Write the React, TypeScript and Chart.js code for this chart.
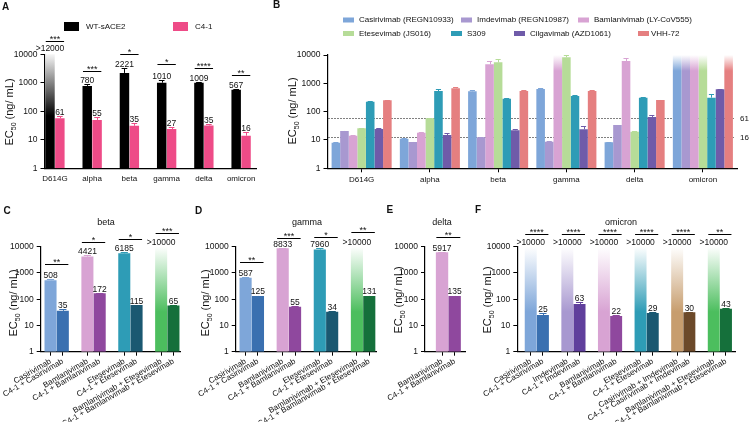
import React, { useEffect, useRef } from 'react';
import { Chart, registerables } from 'chart.js';

Chart.register(...registerables);

const FONT = '"Liberation Sans", Arial, Helvetica, sans-serif';
Chart.defaults.font.family = FONT;
Chart.defaults.color = '#111';

// ---------------- data ----------------
const yTicks = [1, 10, 100, 1000, 10000];
const OPEN = 10000; // bars at/above this value are open-ended and drawn fading out
const yTitleParts = ['EC', '50', ' (ng/ mL)'];

// Panel A
const aCategories = ['D614G', 'alpha', 'beta', 'gamma', 'delta', 'omicron'];
const aSeriesNames = ['WT-sACE2', 'C4-1'];
const aWT = [12000, 780, 2221, 1010, 1009, 570];
const aWTErr = [12000, 910, 3230, 1250, 1070, 620];
const aWTText = ['>12000', '780', '2221', '1010', '1009', '567'];
const aC41 = [57, 50, 31, 24, 32, 14];
const aC41Err = [68, 62, 40, 29, 36, 19];
const aC41Text = ['61', '55', '35', '27', '35', '16'];
const aStars = ['***', '***', '*', '*', '****', '**'];
const aBracket = [30000, 2600, 10200, 4570, 3300, 1880];

// Panel B
const bCategories = ['D614G', 'alpha', 'beta', 'gamma', 'delta', 'omicron'];
const bSeriesNames = [
  'Casirivimab (REGN10933)',
  'Imdevimab (REGN10987)',
  'Bamlanivimab (LY-CoV555)',
  'Etesevimab (JS016)',
  'S309',
  'Cilgavimab (AZD1061)',
  'VHH-72',
];
const bCasirivimab = [8, 11, 522, 630, 8.3, 10000];
const bCasirivimabErr = [8.4, 11.6, 560, 670, 8.7, 10000];
const bImdevimab = [20.8, 8.5, 12.4, 8.7, 33.8, 10000];
const bImdevimabErr = [21.5, 8.8, 12.8, 9, 35, 10000];
const bBamlanivimab = [14.2, 18.1, 4700, 10000, 6150, 10000];
const bBamlanivimabErr = [14.6, 18.6, 5940, 10000, 7600, 10000];
const bEtesevimab = [25.9, 58, 5500, 8300, 19.7, 10000];
const bEtesevimabErr = [26.5, 60, 7000, 10400, 20.3, 10000];
const bS309 = [225, 535, 287, 356, 312, 312];
const bS309Err = [235, 620, 300, 386, 325, 410];
const bCilgavimab = [24.5, 15, 22, 23.8, 65, 612];
const bCilgavimabErr = [26, 18, 24, 31, 76, 640];
const bVHH72 = [251, 668, 537, 537, 258, 10000];
const bVHH72Err = [265, 720, 560, 600, 268, 10000];
const bRefValues = [61, 12.5];
const bRefLabels = ['61', '16'];

// Panel C (beta)
const cTitle = 'beta';
const cLabels = [
  'Casirivimab', 'C4-1 + Casirivimab',
  'Bamlanivimab', 'C4-1 + Bamlanivimab',
  'Etesevimab', 'C4-1 + Etesevimab',
  'Bamlanivimab + Etesevimab', 'C4-1 + Bamlanivimab + Etesevimab',
];
const cValues = [530, 36, 4200, 170, 5600, 60, 10000, 58];
const cErr = [590, 42, 5000, 175, 6500, 62, 10000, 60];
const cText = ['508', '35', '4421', '172', '6185', '115', '>10000', '65'];
const cStars = ['**', '*', '*', '***'];
const cBracket = [2190, 14700, 19600, 32400];

// Panel D (gamma)
const dTitle = 'gamma';
const dLabels = cLabels;
const dValues = [650, 133, 8700, 52, 7800, 33, 10000, 133];
const dErr = [680, 136, 9000, 54, 8800, 34, 10000, 136];
const dText = ['587', '125', '8833', '55', '7960', '34', '>10000', '131'];
const dStars = ['**', '***', '*', '**'];
const dBracket = [2690, 22000, 24000, 35300];

// Panel E (delta)
const eTitle = 'delta';
const eLabels = ['Bamlanivimab', 'C4-1 + Bamlanivimab'];
const eValues = [6100, 133];
const eErr = [6400, 136];
const eText = ['5917', '135'];
const eStars = ['**'];
const eBracket = [22800];

// Panel F (omicron)
const fTitle = 'omicron';
const fLabels = [
  'Casirivimab', 'C4-1 + Casirivimab',
  'Imdevimab', 'C4-1 + Imdevimab',
  'Bamlanivimab', 'C4-1 + Bamlanivimab',
  'Etesevimab', 'C4-1 + Etesevimab',
  'Casirivimab + Imdevimab', 'C4-1 + Casirivimab + Imdevimab',
  'Bamlanivimab + Etesevimab', 'C4-1 + Bamlanivimab + Etesevimab',
];
const fValues = [10000, 25, 10000, 66, 10000, 23, 10000, 30, 10000, 32, 10000, 43];
const fErr = [10000, 29, 10000, 80, 10000, 24, 10000, 32, 10000, 33, 10000, 45];
const fText = ['>10000', '25', '>10000', '63', '>10000', '22', '>10000', '29', '>10000', '30', '>10000', '43'];
const fStars = ['****', '****', '****', '****', '****', '**'];
const fBracket = [29700, 29700, 29700, 29700, 29700, 29700];

// ---------------- colours ----------------
const BLACK = '#000000';
const PINK = '#EE4B87';
const bColors = ['#7EA6D9', '#A898D0', '#D8A3D3', '#B6DC98', '#2E9CB6', '#6F5BA9', '#E57F80'];
const CAS = ['#7EA6D9', '#3A70B0'];
const IMD = ['#A898D0', '#603F9C'];
const BAM = ['#D8A3D3', '#8F489E'];
const ETE = ['#2E9CB6', '#1A5871'];
const CASIMD = ['#C79D6E', '#6C4929'];
const BAMETE = ['#4CBE5E', '#15703B'];
const cColors = [...CAS, ...BAM, ...ETE, ...BAMETE];
const fColors = [...CAS, ...IMD, ...BAM, ...ETE, ...CASIMD, ...BAMETE];

// ---------------- helpers ----------------
const W = 750;
const H = 425;

type Area = { l: number; t: number; r: number; b: number };

function padFor(a: Area, yW: number, xH: number) {
  return { left: a.l - yW, top: a.t, right: W - a.r, bottom: H - a.b - xH };
}

function yAxis(width: number) {
  return {
    type: 'logarithmic',
    min: 1,
    max: 10000,
    afterBuildTicks: (s: any) => {
      s.ticks = yTicks.map((v) => ({ value: v }));
    },
    afterFit: (s: any) => {
      s.width = width;
      s.paddingTop = 0; s.paddingBottom = 0; s.paddingLeft = 0; s.paddingRight = 0;
    },
    ticks: { autoSkip: false, padding: 3, font: { size: 8.5 }, color: '#111', callback: (v: any) => String(v) },
    grid: { display: true, drawOnChartArea: false, drawTicks: true, tickLength: 4, tickWidth: 1, color: '#000' },
    border: { display: true, color: '#000', width: 1.2 },
  };
}

function xLinear(o: { min: number; max: number; positions: number[]; labels: string[]; rotation: number; tick: number; padding: number; height: number }) {
  return {
    type: 'linear',
    min: o.min,
    max: o.max,
    bounds: 'data',
    offset: false,
    afterBuildTicks: (s: any) => {
      s.ticks = o.positions.map((v) => ({ value: v }));
    },
    afterFit: (s: any) => {
      s.height = o.height;
      s.paddingTop = 0; s.paddingBottom = 0; s.paddingLeft = 0; s.paddingRight = 0;
    },
    ticks: {
      autoSkip: false,
      minRotation: o.rotation,
      maxRotation: o.rotation,
      padding: o.padding,
      font: { size: 8 },
      color: '#111',
      callback: (v: any) => {
        const k = o.positions.indexOf(v);
        return k >= 0 ? o.labels[k] : '';
      },
    },
    grid: { display: true, drawOnChartArea: false, drawTicks: o.tick > 0, tickLength: o.tick, color: '#000', offset: false },
    border: { display: true, color: '#000', width: 1.2 },
  };
}

function rawVal(raw: any) {
  return typeof raw === 'number' ? raw : raw && raw.y;
}

function barFill(colors: string | string[], fadeStart: number) {
  return (c: any) => {
    const base = Array.isArray(colors) ? colors[c.dataIndex] : colors;
    if (c.type !== 'data') return base;
    const v = rawVal(c.raw);
    if (v == null || v < OPEN) return base;
    const ys = c.chart.scales && c.chart.scales.y;
    if (!ys) return base;
    const bottom = ys.getPixelForValue(1);
    const top = ys.getPixelForValue(v);
    if (!isFinite(bottom) || !isFinite(top)) return base;
    const g = c.chart.ctx.createLinearGradient(0, bottom, 0, top);
    g.addColorStop(0, base);
    g.addColorStop(fadeStart, base);
    g.addColorStop(1, '#ffffff');
    return g;
  };
}

function drawText(ctx: CanvasRenderingContext2D, t: string, x: number, y: number, size: number, align: CanvasTextAlign = 'center', bold = false, baseline: CanvasTextBaseline = 'middle') {
  ctx.save();
  ctx.font = `${bold ? 'bold ' : ''}${size}px ${FONT}`;
  ctx.fillStyle = '#111';
  ctx.textAlign = align;
  ctx.textBaseline = baseline;
  ctx.fillText(t, x, y);
  ctx.restore();
}

function drawYTitle(ctx: CanvasRenderingContext2D, x: number, y: number) {
  ctx.save();
  ctx.translate(x, y);
  ctx.rotate(-Math.PI / 2);
  const big = `11px ${FONT}`;
  const small = `7px ${FONT}`;
  ctx.font = big;
  const w1 = ctx.measureText(yTitleParts[0]).width;
  const w3 = ctx.measureText(yTitleParts[2]).width;
  ctx.font = small;
  const w2 = ctx.measureText(yTitleParts[1]).width;
  const sx = -(w1 + w2 + w3) / 2;
  ctx.fillStyle = '#111';
  ctx.textAlign = 'left';
  ctx.textBaseline = 'alphabetic';
  ctx.font = big;
  ctx.fillText(yTitleParts[0], sx, 4);
  ctx.font = small;
  ctx.fillText(yTitleParts[1], sx + w1, 6.5);
  ctx.font = big;
  ctx.fillText(yTitleParts[2], sx + w1 + w2, 4);
  ctx.restore();
}

type TextItem = { t: string; x: number; y: number; size: number; align?: CanvasTextAlign; bold?: boolean };
type BoxItem = { x: number; y: number; w: number; h: number; c: string };
type Bracket = { a: [number, number]; b: [number, number]; level: number; stars: string };
type Spec = {
  texts?: TextItem[];
  boxes?: BoxItem[];
  yTitle?: { x: number; y: number };
  brackets?: Bracket[];
  refLines?: { value: number; label: string }[];
};

function decor(spec: Spec) {
  return {
    id: 'decor',
    beforeDatasetsDraw(chart: any) {
      const { ctx, chartArea } = chart;
      const ys = chart.scales.y;
      (spec.refLines || []).forEach((r) => {
        const y = Math.round(ys.getPixelForValue(r.value)) + 0.5;
        ctx.save();
        ctx.strokeStyle = '#000';
        ctx.lineWidth = 1;
        ctx.setLineDash([1, 2]);
        ctx.beginPath();
        ctx.moveTo(chartArea.left + 1, y);
        ctx.lineTo(chartArea.right - 3, y);
        ctx.stroke();
        ctx.restore();
        drawText(ctx, r.label, chartArea.right + 3, y, 8, 'left');
      });
    },
    afterDatasetsDraw(chart: any) {
      const ctx = chart.ctx as CanvasRenderingContext2D;
      const ys = chart.scales.y;
      chart.data.datasets.forEach((ds: any, di: number) => {
        const meta = chart.getDatasetMeta(di);
        meta.data.forEach((el: any, i: number) => {
          const val = rawVal(ds.data[i]);
          const color = Array.isArray(ds.colors) ? ds.colors[i] : ds.colors;
          const err = ds.errors ? ds.errors[i] : null;
          let top = el.y;
          if (err != null && err > val) {
            const ey = Math.round(ys.getPixelForValue(err)) + 0.5;
            const x = Math.round(el.x) + 0.5;
            const hw = el.width * 0.3;
            ctx.save();
            ctx.strokeStyle = color;
            ctx.lineWidth = 1;
            ctx.beginPath();
            ctx.moveTo(x, el.y);
            ctx.lineTo(x, ey);
            ctx.moveTo(el.x - hw, ey);
            ctx.lineTo(el.x + hw, ey);
            ctx.stroke();
            ctx.restore();
            top = Math.min(top, ey);
          }
          if (ds.valueText && ds.valueText[i]) {
            drawText(ctx, ds.valueText[i], el.x, top - 1.5, 8.5, 'center', false, 'alphabetic');
          }
        });
      });
      (spec.brackets || []).forEach((b) => {
        const ea = chart.getDatasetMeta(b.a[0]).data[b.a[1]];
        const eb = chart.getDatasetMeta(b.b[0]).data[b.b[1]];
        if (!ea || !eb) return;
        const x1 = ea.x - ea.width / 2 + 0.5;
        const x2 = eb.x + eb.width / 2 - 0.5;
        const y = Math.round(ys.getPixelForValue(b.level)) + 0.5;
        ctx.save();
        ctx.strokeStyle = '#000';
        ctx.lineWidth = 1;
        ctx.beginPath();
        ctx.moveTo(x1, y);
        ctx.lineTo(x2, y);
        ctx.stroke();
        ctx.restore();
        drawText(ctx, b.stars, (x1 + x2) / 2, y + 0.5, 9, 'center', false, 'alphabetic');
      });
    },
    afterDraw(chart: any) {
      const ctx = chart.ctx as CanvasRenderingContext2D;
      (spec.boxes || []).forEach((b) => {
        ctx.save();
        ctx.fillStyle = b.c;
        ctx.fillRect(b.x, b.y, b.w, b.h);
        ctx.restore();
      });
      (spec.texts || []).forEach((t) => drawText(ctx, t.t, t.x, t.y, t.size, t.align || 'center', !!t.bold));
      if (spec.yTitle) drawYTitle(ctx, spec.yTitle.x, spec.yTitle.y);
    },
  };
}

function baseOptions(area: Area, yW: number, xH: number, x: any) {
  return {
    responsive: false,
    maintainAspectRatio: false,
    animation: false,
    devicePixelRatio: 1,
    events: [],
    layout: { padding: padFor(area, yW, xH) },
    plugins: { legend: { display: false }, tooltip: { enabled: false }, title: { display: false } },
    scales: { x, y: yAxis(yW) },
  };
}

const pairPos = (i: number) => Math.floor(i / 2) * 3 + (i % 2);

// ---------------- panel configs ----------------
function configA() {
  const area = { l: 44.5, t: 54.3, r: 256, b: 168.3 };
  const yW = 44;
  const xH = 20;
  const x = xLinear({ min: -0.28, max: 5.4, positions: aCategories.map((_, i) => i), labels: aCategories, rotation: 0, tick: 0, padding: 6, height: xH });
  return {
    type: 'bar',
    data: {
      datasets: [
        { label: aSeriesNames[0], data: aWT.map((y, i) => ({ x: i, y })), colors: BLACK, errors: aWTErr, valueText: aWTText, backgroundColor: barFill(BLACK, 0.45), borderWidth: 0, categoryPercentage: 0.53, barPercentage: 0.96 },
        { label: aSeriesNames[1], data: aC41.map((y, i) => ({ x: i, y })), colors: PINK, errors: aC41Err, valueText: aC41Text, backgroundColor: barFill(PINK, 0.45), borderWidth: 0, categoryPercentage: 0.53, barPercentage: 0.96 },
      ],
    },
    options: baseOptions(area, yW, xH, x),
    plugins: [
      decor({
        texts: [
          { t: 'A', x: 2, y: 7, size: 10, bold: true, align: 'left' },
          { t: aSeriesNames[0], x: 86, y: 26.5, size: 8, align: 'left' },
          { t: aSeriesNames[1], x: 195, y: 26.5, size: 8, align: 'left' },
        ],
        boxes: [
          { x: 64, y: 22, w: 15, h: 9, c: BLACK },
          { x: 173, y: 22, w: 15, h: 9, c: PINK },
        ],
        yTitle: { x: 9, y: 112 },
        brackets: aStars.map((s, i) => ({ a: [0, i] as [number, number], b: [1, i] as [number, number], level: aBracket[i], stars: s })),
      }),
    ],
  };
}

function configB() {
  const area = { l: 327.5, t: 55, r: 737, b: 168.3 };
  const yW = 40;
  const xH = 20;
  const x = {
    type: 'category',
    offset: true,
    afterFit: (s: any) => {
      s.height = xH;
      s.paddingTop = 0; s.paddingBottom = 0; s.paddingLeft = 0; s.paddingRight = 0;
    },
    ticks: { autoSkip: false, maxRotation: 0, minRotation: 0, padding: 3, font: { size: 8 }, color: '#111' },
    grid: { display: true, drawOnChartArea: false, drawTicks: true, tickLength: 4, color: '#000', offset: false },
    border: { display: true, color: '#000', width: 1.2 },
  };
  const series = [bCasirivimab, bImdevimab, bBamlanivimab, bEtesevimab, bS309, bCilgavimab, bVHH72];
  const errs = [bCasirivimabErr, bImdevimabErr, bBamlanivimabErr, bEtesevimabErr, bS309Err, bCilgavimabErr, bVHH72Err];
  const legendPos = [
    [343, 20, 359], [461, 20, 477], [578, 20, 594],
    [343, 33.5, 359], [451, 33.5, 467], [514, 33.5, 530], [638, 33.5, 651],
  ];
  return {
    type: 'bar',
    data: {
      labels: bCategories,
      datasets: series.map((d, k) => ({
        label: bSeriesNames[k],
        data: d,
        colors: bColors[k],
        errors: errs[k],
        backgroundColor: barFill(bColors[k], 0.86),
        borderWidth: 0,
        categoryPercentage: 0.88,
        barPercentage: 1,
      })),
    },
    options: baseOptions(area, yW, xH, x),
    plugins: [
      decor({
        texts: [
          { t: 'B', x: 273, y: 5.5, size: 10, bold: true, align: 'left' },
          ...bSeriesNames.map((n, k) => ({ t: n, x: legendPos[k][2], y: legendPos[k][1], size: 8, align: 'left' as CanvasTextAlign })),
        ],
        boxes: bSeriesNames.map((_, k) => ({ x: legendPos[k][0], y: legendPos[k][1] - 2.5, w: 11, h: 5, c: bColors[k] })),
        yTitle: { x: 292, y: 111 },
        refLines: bRefValues.map((v, k) => ({ value: v, label: bRefLabels[k] })),
      }),
    ],
  };
}

function pairPanel(o: {
  area: Area; min: number; max: number; labels: string[]; values: number[]; errors: number[]; text: string[];
  colors: string[]; stars: string[]; levels: number[]; letter: string; letterPos: [number, number];
  title: string; titlePos: [number, number]; yTitle: { x: number; y: number };
}) {
  const yW = 38;
  const xH = 70;
  const positions = o.labels.map((_, i) => pairPos(i));
  const x = xLinear({ min: o.min, max: o.max, positions, labels: o.labels, rotation: 30, tick: 4, padding: 1, height: xH });
  return {
    type: 'bar',
    data: {
      datasets: [
        {
          label: o.title,
          data: o.values.map((y, i) => ({ x: positions[i], y })),
          colors: o.colors,
          errors: o.errors,
          valueText: o.text,
          backgroundColor: barFill(o.colors, 0.38),
          borderWidth: 0,
          categoryPercentage: 1,
          barPercentage: 0.98,
        },
      ],
    },
    options: baseOptions(o.area, yW, xH, x),
    plugins: [
      decor({
        texts: [
          { t: o.letter, x: o.letterPos[0], y: o.letterPos[1], size: 10, bold: true, align: 'left' },
          { t: o.title, x: o.titlePos[0], y: o.titlePos[1], size: 9 },
        ],
        yTitle: o.yTitle,
        brackets: o.stars.map((s, k) => ({ a: [0, 2 * k] as [number, number], b: [0, 2 * k + 1] as [number, number], level: o.levels[k], stars: s })),
      }),
    ],
  };
}

function configC() {
  return pairPanel({
    area: { l: 40.7, t: 246.7, r: 180.2, b: 351.7 }, min: -0.8, max: 10.55,
    labels: cLabels, values: cValues, errors: cErr, text: cText, colors: cColors, stars: cStars, levels: cBracket,
    letter: 'C', letterPos: [3.5, 211.5], title: cTitle, titlePos: [106, 222.7], yTitle: { x: 13, y: 303 },
  });
}

function configD() {
  return pairPanel({
    area: { l: 235.7, t: 246.7, r: 376.7, b: 351.7 }, min: -0.8, max: 10.6,
    labels: dLabels, values: dValues, errors: dErr, text: dText, colors: cColors, stars: dStars, levels: dBracket,
    letter: 'D', letterPos: [195, 211.5], title: dTitle, titlePos: [307, 222.7], yTitle: { x: 205, y: 303 },
  });
}

function configE() {
  return pairPanel({
    area: { l: 425, t: 246.7, r: 465, b: 351.7 }, min: -1.35, max: 1.82,
    labels: eLabels, values: eValues, errors: eErr, text: eText, colors: BAM, stars: eStars, levels: eBracket,
    letter: 'E', letterPos: [386.5, 210.3], title: eTitle, titlePos: [442, 222.7], yTitle: { x: 398, y: 300 },
  });
}

function configF() {
  return pairPanel({
    area: { l: 517.3, t: 246.7, r: 735, b: 351.7 }, min: -1.1, max: 16.74,
    labels: fLabels, values: fValues, errors: fErr, text: fText, colors: fColors, stars: fStars, levels: fBracket,
    letter: 'F', letterPos: [475, 210.7], title: fTitle, titlePos: [621, 222.7], yTitle: { x: 487, y: 300 },
  });
}

// ---------------- components ----------------
function ChartCanvas({ build }: { build: () => any }) {
  const ref = useRef<HTMLCanvasElement | null>(null);
  useEffect(() => {
    if (!ref.current) return;
    const chart = new Chart(ref.current, build());
    return () => chart.destroy();
  }, [build]);
  return (
    <canvas
      ref={ref}
      width={W}
      height={H}
      style={{ position: 'absolute', left: 0, top: 0, width: W, height: H }}
    />
  );
}

export default function App() {
  return (
    <div
      style={{
        position: 'fixed',
        left: 0,
        top: 0,
        width: W,
        height: H,
        background: '#ffffff',
        overflow: 'hidden',
      }}
    >
      <ChartCanvas build={configA} />
      <ChartCanvas build={configB} />
      <ChartCanvas build={configC} />
      <ChartCanvas build={configD} />
      <ChartCanvas build={configE} />
      <ChartCanvas build={configF} />
    </div>
  );
}
